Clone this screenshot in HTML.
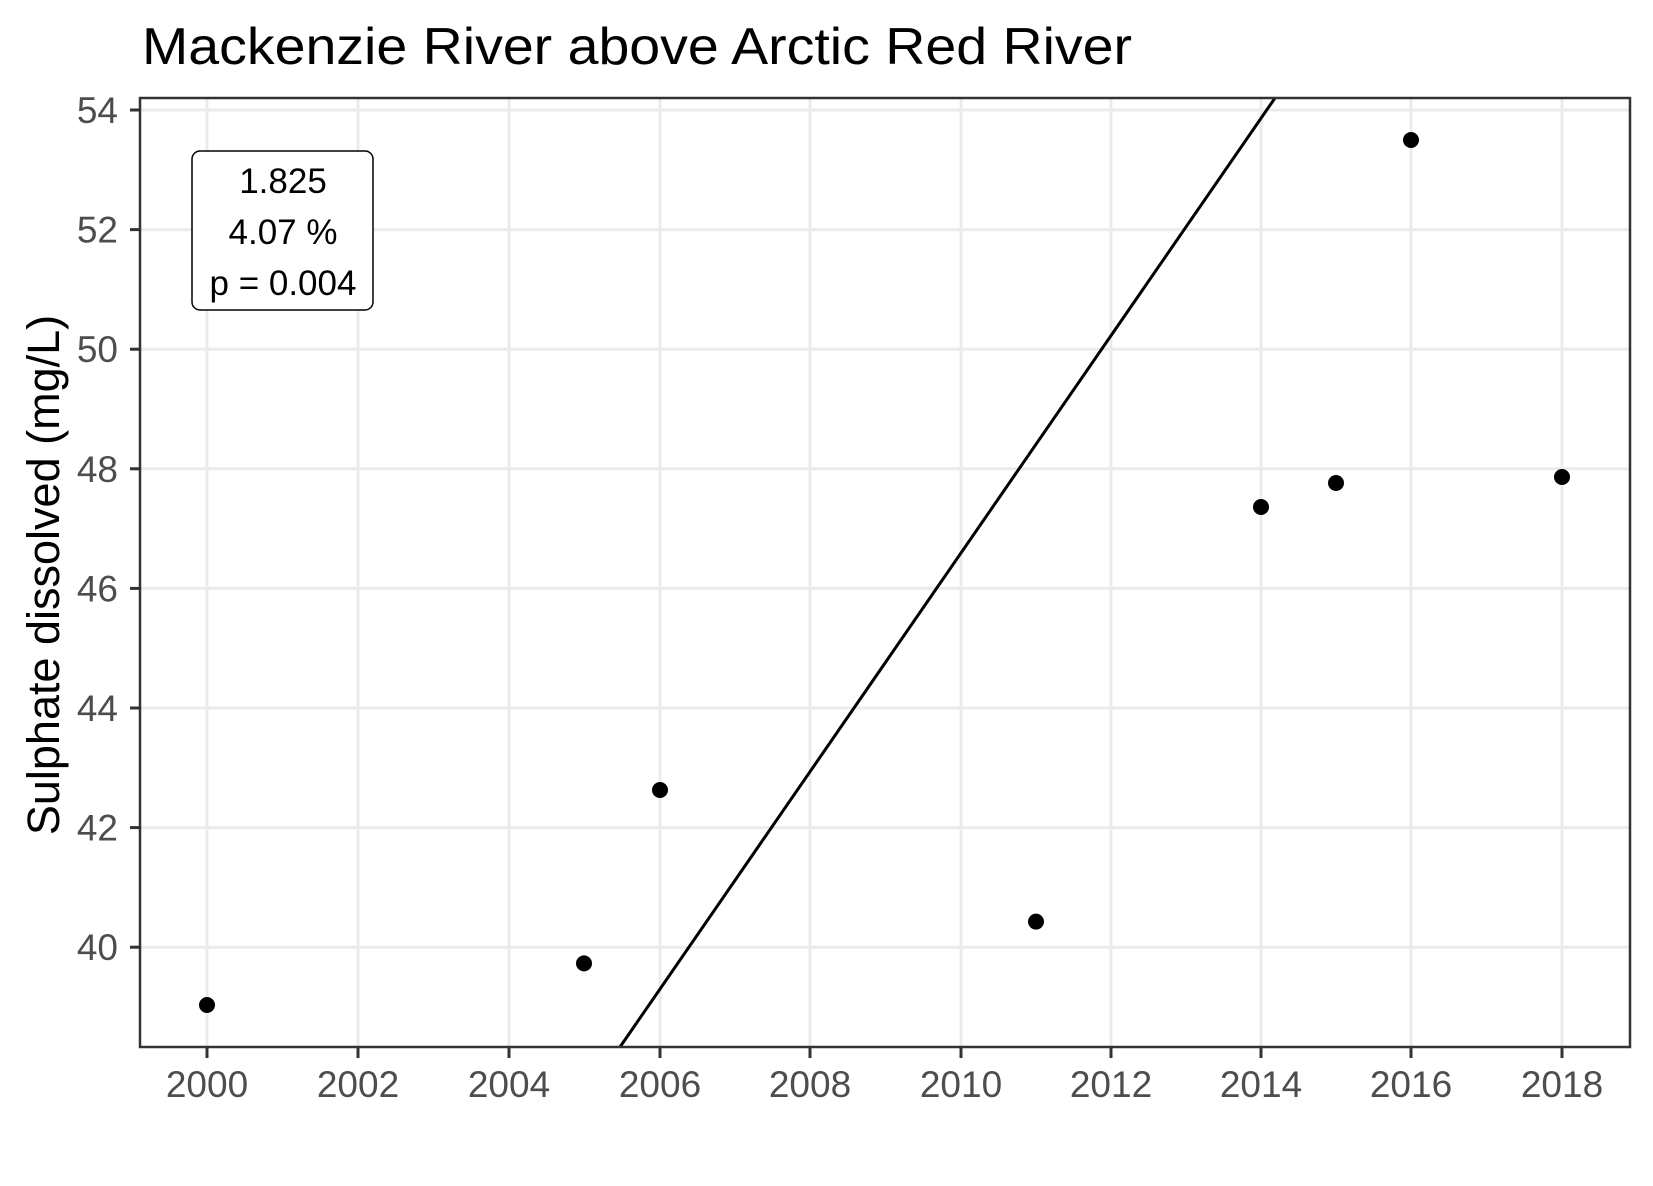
<!DOCTYPE html>
<html><head><meta charset="utf-8"><style>body{margin:0;background:#fff}</style></head>
<body>
<svg width="1653" height="1181" xmlns="http://www.w3.org/2000/svg" font-family="Liberation Sans, sans-serif">
<rect width="1653" height="1181" fill="#fff"/>
<g stroke="#ebebeb" stroke-width="3">
<line x1="140" x2="1630" y1="110" y2="110"/><line x1="140" x2="1630" y1="229.6" y2="229.6"/>
<line x1="140" x2="1630" y1="349.2" y2="349.2"/><line x1="140" x2="1630" y1="468.8" y2="468.8"/>
<line x1="140" x2="1630" y1="588.4" y2="588.4"/><line x1="140" x2="1630" y1="708" y2="708"/>
<line x1="140" x2="1630" y1="827.6" y2="827.6"/><line x1="140" x2="1630" y1="947.2" y2="947.2"/>
<line y1="98" y2="1047" x1="207" x2="207"/><line y1="98" y2="1047" x1="358" x2="358"/>
<line y1="98" y2="1047" x1="509" x2="509"/><line y1="98" y2="1047" x1="660" x2="660"/>
<line y1="98" y2="1047" x1="810" x2="810"/><line y1="98" y2="1047" x1="961" x2="961"/>
<line y1="98" y2="1047" x1="1111" x2="1111"/><line y1="98" y2="1047" x1="1261" x2="1261"/>
<line y1="98" y2="1047" x1="1411" x2="1411"/><line y1="98" y2="1047" x1="1562" x2="1562"/>
</g>
<line x1="620" y1="1047" x2="1275" y2="98" stroke="#000" stroke-width="3"/>
<g fill="#000">
<circle cx="207" cy="1005" r="8"/><circle cx="584" cy="963.4" r="8"/><circle cx="660" cy="790" r="8"/>
<circle cx="1036" cy="921.6" r="8"/><circle cx="1261" cy="507" r="8"/><circle cx="1336" cy="483" r="8"/>
<circle cx="1411" cy="140" r="8"/><circle cx="1562" cy="477" r="8"/>
</g>
<rect x="140" y="98" width="1490" height="949" fill="none" stroke="#333" stroke-width="2.5"/>
<rect x="192" y="151" width="181" height="159" rx="8" fill="#fff" stroke="#000" stroke-width="1.5"/>
<g font-size="35" text-anchor="middle" fill="#000">
<text x="283" y="193">1.825</text><text x="283" y="244">4.07 %</text><text x="283" y="295">p = 0.004</text>
</g>
<g stroke="#333" stroke-width="3">
<line x1="130" x2="140" y1="110" y2="110"/><line x1="130" x2="140" y1="229.6" y2="229.6"/>
<line x1="130" x2="140" y1="349.2" y2="349.2"/><line x1="130" x2="140" y1="468.8" y2="468.8"/>
<line x1="130" x2="140" y1="588.4" y2="588.4"/><line x1="130" x2="140" y1="708" y2="708"/>
<line x1="130" x2="140" y1="827.6" y2="827.6"/><line x1="130" x2="140" y1="947.2" y2="947.2"/>
<line y1="1047" y2="1058" x1="207" x2="207"/><line y1="1047" y2="1058" x1="358" x2="358"/>
<line y1="1047" y2="1058" x1="509" x2="509"/><line y1="1047" y2="1058" x1="660" x2="660"/>
<line y1="1047" y2="1058" x1="810" x2="810"/><line y1="1047" y2="1058" x1="961" x2="961"/>
<line y1="1047" y2="1058" x1="1111" x2="1111"/><line y1="1047" y2="1058" x1="1261" x2="1261"/>
<line y1="1047" y2="1058" x1="1411" x2="1411"/><line y1="1047" y2="1058" x1="1562" x2="1562"/>
</g>
<g font-size="37" fill="#4d4d4d" text-anchor="end">
<text x="118" y="123">54</text><text x="118" y="242.6">52</text><text x="118" y="362.2">50</text>
<text x="118" y="481.8">48</text><text x="118" y="601.4">46</text><text x="118" y="721">44</text>
<text x="118" y="840.6">42</text><text x="118" y="960.2">40</text>
</g>
<g font-size="37" fill="#4d4d4d" text-anchor="middle">
<text x="207" y="1097">2000</text><text x="358" y="1097">2002</text><text x="509" y="1097">2004</text>
<text x="660" y="1097">2006</text><text x="810" y="1097">2008</text><text x="961" y="1097">2010</text>
<text x="1111" y="1097">2012</text><text x="1261" y="1097">2014</text><text x="1411" y="1097">2016</text>
<text x="1562" y="1097">2018</text>
</g>
<text x="142" y="64" font-size="52" fill="#000" textLength="990" lengthAdjust="spacingAndGlyphs">Mackenzie River above Arctic Red River</text>
<text transform="translate(59,575) rotate(-90)" font-size="45" text-anchor="middle" fill="#000">Sulphate dissolved (mg/L)</text>
</svg>
</body></html>
